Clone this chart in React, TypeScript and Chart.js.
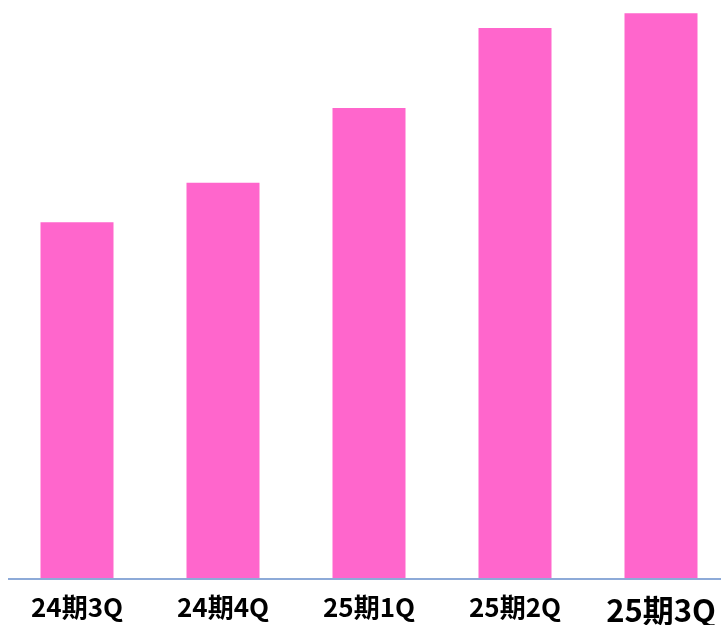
import React, { useEffect, useRef } from "react";
import { Chart, registerables } from "chart.js";

Chart.register(...registerables);

// Quarterly figures (relative index, scale 0–100)
const quarters: string[] = ["24期3Q", "24期4Q", "25期1Q", "25期2Q", "25期3Q"];
const values: number[] = [62.5, 69.4, 82.5, 96.5, 99.1];
const yMax = 100;

const BAR_COLOR = "#FF66CC";
const AXIS_COLOR = "#8DAAD8";

// Baseline drawn along the bottom of the plot, starting a few pixels in
const baselinePlugin = {
  id: "baseline",
  afterDatasetsDraw(chart: any) {
    const { ctx, chartArea, width } = chart;
    ctx.save();
    ctx.strokeStyle = AXIS_COLOR;
    ctx.lineWidth = 2;
    ctx.beginPath();
    ctx.moveTo(4, chartArea.bottom);
    ctx.lineTo(width, chartArea.bottom);
    ctx.stroke();
    ctx.restore();
  },
};

export default function App() {
  const canvasRef = useRef<HTMLCanvasElement | null>(null);

  useEffect(() => {
    const canvas = canvasRef.current;
    if (!canvas) return;
    const chart = new Chart(canvas, {
      type: "bar",
      data: {
        labels: quarters,
        datasets: [
          {
            data: values,
            backgroundColor: BAR_COLOR,
            borderWidth: 0,
            barPercentage: 0.5,
            categoryPercentage: 1,
          },
        ],
      },
      plugins: [baselinePlugin],
      options: {
        responsive: false,
        animation: false,
        layout: { padding: 0 },
        plugins: {
          legend: { display: false },
          tooltip: { enabled: false },
          title: { display: false },
        },
        scales: {
          x: {
            grid: { display: false, drawTicks: false },
            border: { display: false },
            ticks: {
              color: "#000000",
              padding: 13,
              maxRotation: 0,
              autoSkip: false,
              font: (ctx: any) => ({
                family: "'Noto Sans CJK JP', sans-serif",
                weight: "bold",
                size: ctx.index === quarters.length - 1 ? 31 : 26,
              }),
            },
            afterFit: (scale: any) => {
              scale.height = 46;
            },
          },
          y: {
            display: false,
            min: 0,
            max: yMax,
          },
        },
      },
    });
    return () => chart.destroy();
  }, []);

  return (
    <div
      style={{
        position: "fixed",
        left: 0,
        top: 0,
        width: 721,
        height: 625,
        overflow: "hidden",
        background: "#ffffff",
      }}
    >
      <canvas
        ref={canvasRef}
        width={730}
        height={617}
        style={{ position: "absolute", left: 4, top: 8, width: 730, height: 617 }}
      />
    </div>
  );
}
